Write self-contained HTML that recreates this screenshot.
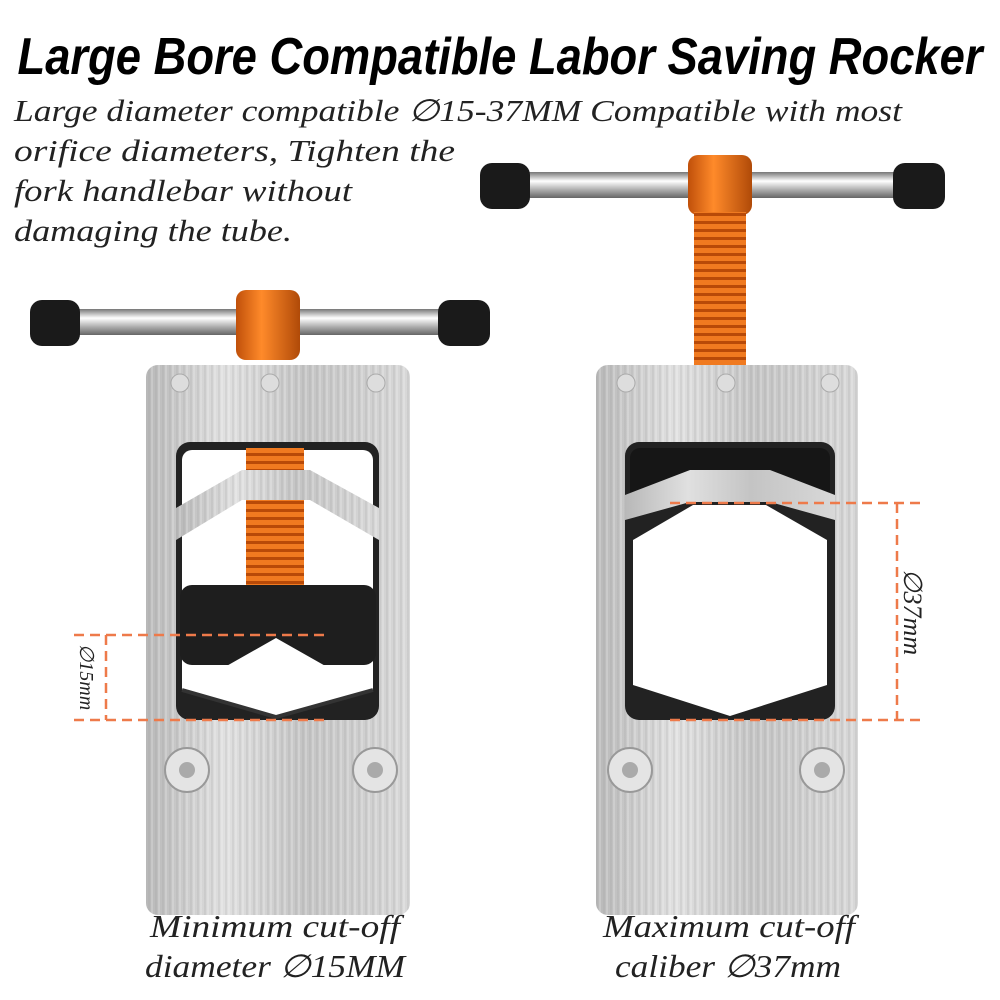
<!DOCTYPE html>
<html><head><style>
body{margin:0;width:1000px;height:1000px;background:#fff;overflow:hidden}
svg{display:block}
</style></head><body>
<svg width="1000" height="1000" viewBox="0 0 1000 1000" xmlns="http://www.w3.org/2000/svg">
<defs>
<linearGradient id="silver" x1="0" x2="1">
<stop offset="0" stop-color="#b8b8b8"/><stop offset="0.3" stop-color="#e0e0e0"/><stop offset="0.6" stop-color="#c4c4c4"/><stop offset="1" stop-color="#d8d8d8"/>
</linearGradient>
<pattern id="brush" width="7" height="40" patternUnits="userSpaceOnUse">
<line x1="2" y1="0" x2="2" y2="40" stroke="#999" stroke-width="0.7" opacity="0.5"/><line x1="5" y1="0" x2="5" y2="40" stroke="#fff" stroke-width="0.8" opacity="0.5"/>
</pattern>
<linearGradient id="bar" x1="0" y1="0" x2="0" y2="1">
<stop offset="0" stop-color="#777"/><stop offset="0.35" stop-color="#fff"/><stop offset="0.7" stop-color="#aaa"/><stop offset="1" stop-color="#666"/>
</linearGradient>
<linearGradient id="orange" x1="0" x2="1">
<stop offset="0" stop-color="#c0500a"/><stop offset="0.4" stop-color="#ff8a2a"/><stop offset="1" stop-color="#b04a08"/>
</linearGradient>
<pattern id="thread" width="20" height="8" patternUnits="userSpaceOnUse">
<rect width="20" height="8" fill="#f07a20"/><rect y="5" width="20" height="3" fill="#b84a08"/>
</pattern>
</defs>

<text x="500" y="74" text-anchor="middle" font-family="Liberation Sans, sans-serif" font-weight="bold" font-style="italic" font-size="52" fill="#000" textLength="965" lengthAdjust="spacingAndGlyphs">Large Bore Compatible Labor Saving Rocker</text>
<g font-family="Liberation Serif, serif" font-style="italic" font-size="31" fill="#222">
<text x="14" y="121" textLength="888" lengthAdjust="spacingAndGlyphs">Large diameter compatible ∅15-37MM Compatible with most</text>
<text x="14" y="161" textLength="441" lengthAdjust="spacingAndGlyphs">orifice diameters, Tighten the</text>
<text x="14" y="201" textLength="338" lengthAdjust="spacingAndGlyphs">fork handlebar without</text>
<text x="14" y="241" textLength="278" lengthAdjust="spacingAndGlyphs">damaging the tube.</text>
</g>

<rect x="35" y="309" width="450" height="26" rx="12" fill="url(#bar)"/>
<rect x="30" y="300" width="50" height="46" rx="12" fill="#1a1a1a"/>
<rect x="438" y="300" width="52" height="46" rx="12" fill="#1a1a1a"/>
<rect x="236" y="290" width="64" height="70" rx="10" fill="url(#orange)"/>
<rect x="146" y="365" width="264" height="550" rx="12" fill="url(#silver)"/>
<rect x="146" y="365" width="264" height="550" rx="12" fill="url(#brush)"/>
<rect x="176" y="442" width="203" height="278" rx="14" fill="#222"/>
<rect x="182" y="450" width="191" height="240" rx="10" fill="#fff"/>
<rect x="246" y="448" width="58" height="140" fill="url(#thread)"/>
<path d="M176 508 L242 470 L310 470 L379 508 L379 540 L310 500 L242 500 L176 540 Z" fill="url(#silver)"/>
<path d="M176 508 L242 470 L310 470 L379 508 L379 540 L310 500 L242 500 L176 540 Z" fill="url(#brush)"/>
<rect x="180" y="585" width="196" height="80" rx="12" fill="#1e1e1e"/>
<path d="M182 670 L216 672 L276 638 L336 672 L373 670 L373 690 L276 717 L182 690 Z" fill="#fff"/>
<path d="M182 690 L276 717 L373 690" fill="none" stroke="#333" stroke-width="4"/>
<g fill="#ddd" stroke="#aaa"><circle cx="180" cy="383" r="9"/><circle cx="270" cy="383" r="9"/><circle cx="376" cy="383" r="9"/></g>
<g><circle cx="187" cy="770" r="22" fill="#e4e4e4" stroke="#999" stroke-width="2"/><circle cx="187" cy="770" r="8" fill="#aaa"/>
<circle cx="375" cy="770" r="22" fill="#e4e4e4" stroke="#999" stroke-width="2"/><circle cx="375" cy="770" r="8" fill="#aaa"/></g>
<g stroke="#ee7a4a" stroke-width="2.5" stroke-dasharray="10 6" fill="none">
<line x1="74" y1="635" x2="330" y2="635"/><line x1="74" y1="720" x2="330" y2="720"/><line x1="106" y1="635" x2="106" y2="720"/>
</g>
<text transform="translate(80 677) rotate(90)" text-anchor="middle" font-family="Liberation Serif, serif" font-style="italic" font-size="20" fill="#222">∅15mm</text>

<rect x="485" y="172" width="455" height="26" rx="12" fill="url(#bar)"/>
<rect x="480" y="163" width="50" height="46" rx="12" fill="#1a1a1a"/>
<rect x="893" y="163" width="52" height="46" rx="12" fill="#1a1a1a"/>
<rect x="688" y="155" width="64" height="60" rx="10" fill="url(#orange)"/>
<rect x="694" y="212" width="52" height="155" fill="url(#thread)"/>
<rect x="596" y="365" width="262" height="550" rx="12" fill="url(#silver)"/>
<rect x="596" y="365" width="262" height="550" rx="12" fill="url(#brush)"/>
<rect x="625" y="442" width="210" height="278" rx="14" fill="#222"/>
<rect x="630" y="448" width="200" height="52" rx="10" fill="#161616"/>
<path d="M625 495 L690 470 L770 470 L835 495 L835 520 L770 502 L690 502 L625 520 Z" fill="url(#silver)"/>
<path d="M633 540 L693 505 L766 505 L827 540 L827 685 L730 716 L633 685 Z" fill="#fff"/>
<g fill="#ddd" stroke="#aaa"><circle cx="626" cy="383" r="9"/><circle cx="726" cy="383" r="9"/><circle cx="830" cy="383" r="9"/></g>
<g><circle cx="630" cy="770" r="22" fill="#e4e4e4" stroke="#999" stroke-width="2"/><circle cx="630" cy="770" r="8" fill="#aaa"/>
<circle cx="822" cy="770" r="22" fill="#e4e4e4" stroke="#999" stroke-width="2"/><circle cx="822" cy="770" r="8" fill="#aaa"/></g>
<g stroke="#ee7a4a" stroke-width="2.5" stroke-dasharray="10 6" fill="none">
<line x1="670" y1="503" x2="925" y2="503"/><line x1="670" y1="720" x2="925" y2="720"/><line x1="897" y1="503" x2="897" y2="720"/>
</g>
<text transform="translate(904 612) rotate(90)" text-anchor="middle" font-family="Liberation Serif, serif" font-style="italic" font-size="26" fill="#222">∅37mm</text>

<g font-family="Liberation Serif, serif" font-style="italic" font-size="32" fill="#222">
<text x="150" y="937" textLength="250" lengthAdjust="spacingAndGlyphs">Minimum cut-off</text>
<text x="145" y="977" textLength="260" lengthAdjust="spacingAndGlyphs">diameter ∅15MM</text>
<text x="603" y="937" textLength="252" lengthAdjust="spacingAndGlyphs">Maximum cut-off</text>
<text x="615" y="977" textLength="226" lengthAdjust="spacingAndGlyphs">caliber ∅37mm</text>
</g>
</svg>
</body></html>
